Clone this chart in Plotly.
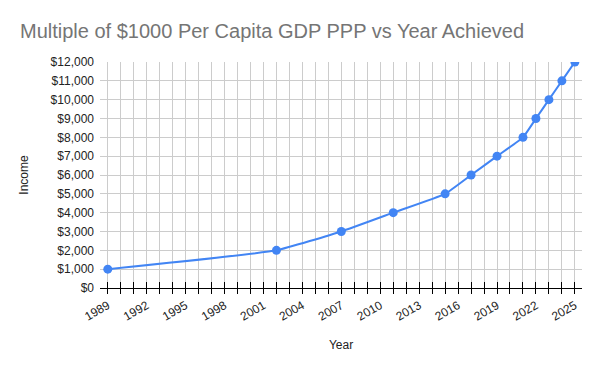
import plotly.graph_objects as go

years = [1989, 2002, 2007, 2011, 2015, 2017, 2019, 2021, 2022, 2023, 2024, 2025]
income = [1000, 2000, 3000, 4000, 5000, 6000, 7000, 8000, 9000, 10000, 11000, 12000]
x_tick_labels = list(range(1989, 2026, 3))
y_tick_values = list(range(0, 12001, 1000))

FONT = "Liberation Sans, Arial, sans-serif"
X_RANGE = [1988.4, 2025.55]

fig = go.Figure()
fig.add_trace(go.Scatter(
    x=years, y=income, mode="lines+markers",
    line=dict(color="#4285F4", width=2, shape="spline", smoothing=0.35),
    marker=dict(color="#4285F4", size=9),
    hoverinfo="x+y", showlegend=False,
))
# invisible trace for overlay axis carrying inside tick marks
fig.add_trace(go.Scatter(x=[years[0]], y=[income[0]], xaxis="x2", mode="markers",
                         marker=dict(opacity=0), showlegend=False, hoverinfo="skip"))

fig.update_layout(
    width=600, height=371,
    margin=dict(l=100, r=18, t=62, b=83),
    paper_bgcolor="white", plot_bgcolor="white",
    font=dict(family=FONT, size=12, color="#222222"),
    title=dict(text="Multiple of $1000 Per Capita GDP PPP vs Year Achieved",
               x=20/600, xanchor="left", y=1-31/371, yanchor="middle",
               font=dict(family=FONT, size=20, color="#757575")),
    xaxis=dict(
        range=X_RANGE,
        tickmode="array",
        tickvals=list(range(1989, 2026)),
        ticktext=[str(v) if v in x_tick_labels else "" for v in range(1989, 2026)],
        tickangle=-30,
        ticks="outside", ticklen=5, tickcolor="#000000", tickwidth=1,
        showgrid=True, gridcolor="#cccccc", gridwidth=1,
        showline=True, linecolor="#000000", linewidth=1,
        zeroline=False, automargin=False,
        tickfont=dict(size=12, color="#222222"),
        title=dict(text="Year", font=dict(size=12, color="#222222"), standoff=18),
    ),
    xaxis2=dict(
        range=X_RANGE, overlaying="x", side="bottom",
        tickmode="array", tickvals=list(range(1989, 2026)),
        showticklabels=False, ticks="inside", ticklen=6, tickcolor="#000000",
        showgrid=False, zeroline=False, showline=False, automargin=False,
    ),
    yaxis=dict(
        range=[0, 12000],
        tickvals=y_tick_values,
        ticktext=[f"${v:,}" for v in y_tick_values],
        showgrid=True, gridcolor="#cccccc", gridwidth=1,
        zeroline=False, showline=False, ticks="",
        ticklabelstandoff=5, automargin=False,
        tickfont=dict(size=12, color="#222222"),
        title=dict(text="Income", font=dict(size=12, color="#222222"), standoff=19),
    ),
)

fig.write_html("out.html", config={"displayModeBar": False},
               post_script="document.body.style.margin='0';")
